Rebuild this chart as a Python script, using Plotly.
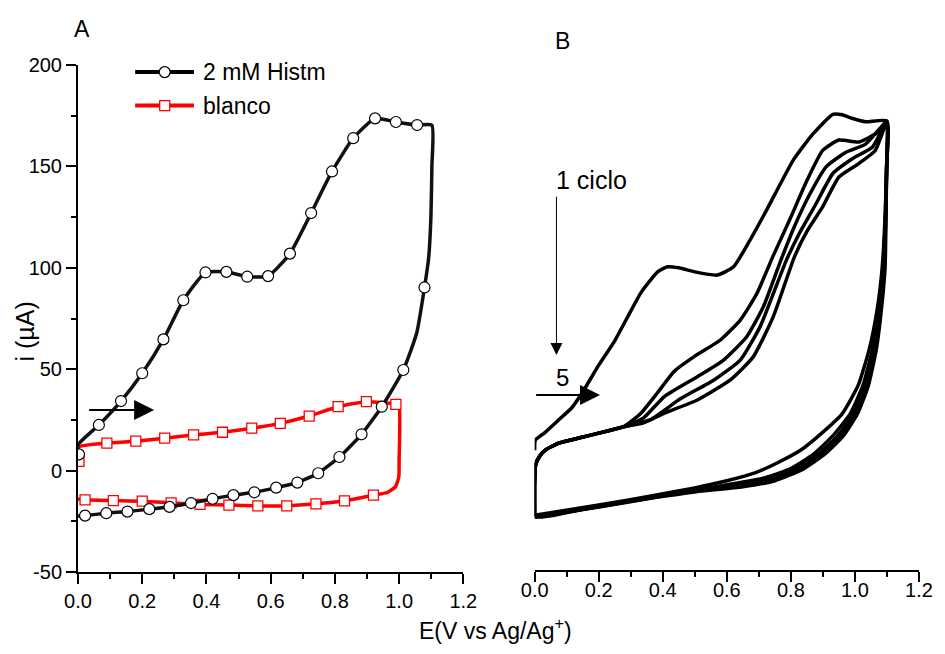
import plotly.graph_objects as go

FONT = "Arial, Liberation Sans, sans-serif"

# ---------------- Panel A data ----------------
# 2 mM Histm: full CV loop (line path) and the marked points
histm_x = [0, 0, 0.065, 0.134, 0.2, 0.266, 0.328, 0.397, 0.462, 0.527, 0.592, 0.66, 0.726, 0.791,
           0.857, 0.925, 0.99, 1.056, 1.102, 1.102, 1.099, 1.092, 1.079, 1.055, 1.013, 0.946, 0.883,
           0.814, 0.748, 0.683, 0.617, 0.549, 0.484, 0.419, 0.352, 0.285, 0.222, 0.154, 0.088, 0.022, 0.0]
histm_y = [8, 12.7, 22.5, 34.3, 48, 64.7, 84, 97.7, 98, 95.6, 95.9, 107, 127, 147.5,
           163.9, 173.7, 171.9, 170.4, 170.3, 150, 125, 105, 90.3, 68, 49.6, 31.5, 17.9,
           6.7, -1.3, -5.9, -8.4, -10.7, -12.1, -13.9, -16, -17.9, -19, -20.2, -21, -22.2, -22.5]
histm_mx = [0.003, 0.065, 0.134, 0.2, 0.266, 0.328, 0.397, 0.462, 0.527, 0.592, 0.66, 0.726, 0.791,
            0.857, 0.925, 0.99, 1.056, 1.079, 1.013, 0.946, 0.883, 0.814, 0.748, 0.683, 0.617,
            0.549, 0.484, 0.419, 0.352, 0.285, 0.222, 0.154, 0.088, 0.022]
histm_my = [8, 22.5, 34.3, 48, 64.7, 84, 97.7, 98, 95.6, 95.9, 107, 127, 147.5,
            163.9, 173.7, 171.9, 170.4, 90.3, 49.6, 31.5, 17.9, 6.7, -1.3, -5.9, -8.4,
            -10.7, -12.1, -13.9, -16, -17.9, -19, -20.2, -21, -22.2]

# blanco
blanco_x = [0, 0, 0.09, 0.18, 0.27, 0.36, 0.45, 0.541, 0.63, 0.72, 0.81, 0.898, 0.99, 1.0, 1.0,
            0.999, 0.989, 0.963, 0.92, 0.83, 0.741, 0.65, 0.56, 0.47, 0.38, 0.29, 0.2, 0.11, 0.022, 0]
blanco_y = [4.5, 11.5, 13.5, 14.5, 16, 17.6, 18.9, 20.9, 23.3, 26.9, 31.5, 34, 32.7, 31.5, 5,
            -3, -7.9, -10.8, -12.1, -14.9, -16.4, -17.4, -17.4, -17, -16.7, -15.9, -15.1, -14.8, -14.4, -14]
blanco_mx = [0.003, 0.09, 0.18, 0.27, 0.36, 0.45, 0.541, 0.63, 0.72, 0.81, 0.898, 0.99,
             0.92, 0.83, 0.741, 0.65, 0.56, 0.47, 0.38, 0.29, 0.2, 0.11, 0.022]
blanco_my = [4.5, 13.5, 14.5, 16, 17.6, 18.9, 20.9, 23.3, 26.9, 31.5, 34, 32.7,
             -12.1, -14.9, -16.4, -17.4, -17.4, -17, -16.7, -15.9, -15.1, -14.8, -14.4]

# ---------------- Panel B data (5 cycles) ----------------
c1_x = [0, 0.002, 0.03, 0.075, 0.116, 0.147, 0.2, 0.25, 0.291, 0.333, 0.384, 0.415, 0.45, 0.5, 0.57,
        0.621, 0.67, 0.724, 0.807, 0.869, 0.931, 0.96, 0.993, 1.033, 1.1,
        1.099, 1.094, 1.085, 1.07, 1.045, 1.01, 0.96, 0.9, 0.83, 0.76, 0.69, 0.6, 0.5, 0.38, 0.2, 0.0]
c1_y = [10, 15, 18.5, 25, 31, 38, 52, 64, 76, 88, 98, 100.5, 100, 98, 96.4,
        100.5, 113, 128.4, 153, 166, 175.7, 175.5, 173.6, 172, 172.4,
        150, 125, 100, 80, 60, 42, 28, 19, 10, 4, -1, -5, -8.5, -12, -17, -22]

c2_x = [0, 0, 0.003, 0.015, 0.034, 0.075, 0.178, 0.281, 0.33, 0.384, 0.436, 0.498, 0.58, 0.642, 0.694,
        0.745, 0.8, 0.85, 0.9, 0.95, 1.012, 1.074, 1.1,
        1.099, 1.095, 1.088, 1.075, 1.055, 1.025, 0.985, 0.93, 0.87, 0.8, 0.72, 0.62, 0.5, 0.38, 0.2, 0]
c2_y = [-22.5, -5, 3, 7, 10.2, 13.5, 17.6, 22, 28, 38.5, 49, 56.2, 64.4, 74.2, 87.4,
        106, 125, 143, 158, 163, 162, 167, 172,
        150, 125, 100, 80, 60, 42, 28, 17, 8, 1, -3.5, -6.5, -9.5, -12.5, -17.5, -22.5]

c3_x = [0, 0, 0.003, 0.015, 0.034, 0.075, 0.178, 0.281, 0.34, 0.405, 0.508, 0.59, 0.662, 0.714, 0.765,
        0.81, 0.858, 0.91, 0.972, 1.033, 1.1,
        1.099, 1.096, 1.09, 1.078, 1.06, 1.032, 0.995, 0.945, 0.885, 0.815, 0.73, 0.63, 0.5, 0.38, 0.2, 0]
c3_y = [-22.5, -5, 3, 7, 10.2, 13.5, 17.6, 21.7, 26, 36.5, 46.3, 54.5, 66, 80.8, 102.2,
        120, 136, 149.8, 157, 161, 172,
        150, 125, 100, 80, 60, 42, 28, 17, 8, 1, -4, -7, -10, -12.8, -17.7, -22.7]

c4_x = [0, 0, 0.003, 0.015, 0.034, 0.075, 0.178, 0.281, 0.36, 0.456, 0.56, 0.642, 0.704, 0.786,
        0.83, 0.879, 0.931, 0.993, 1.055, 1.1,
        1.099, 1.096, 1.092, 1.08, 1.064, 1.037, 1.002, 0.955, 0.895, 0.825, 0.74, 0.64, 0.5, 0.38, 0.2, 0]
c4_y = [-22.5, -5, 3, 7, 10.2, 13.5, 17.6, 21.7, 25, 35.5, 44.7, 54.5, 71, 103.8,
        118, 131.7, 146.5, 153.9, 159.6, 172,
        150, 125, 100, 80, 60, 42, 28, 17, 8, 1, -4.5, -7.5, -10.2, -13, -17.8, -22.8]

c5_x = [0, 0, 0.003, 0.015, 0.034, 0.075, 0.178, 0.281, 0.34, 0.405, 0.508, 0.611, 0.683, 0.745,
        0.811, 0.85, 0.899, 0.95, 1.012, 1.064, 1.1,
        1.099, 1.097, 1.094, 1.083, 1.067, 1.042, 1.008, 0.963, 0.905, 0.835, 0.75, 0.65, 0.5, 0.38, 0.2, 0]
c5_y = [-22.5, -5, 3, 7, 10.2, 13.5, 17.6, 21.7, 23.5, 28.3, 34.8, 44.7, 56.2, 75.9,
        105.4, 118, 130, 144.8, 151.4, 158, 172,
        150, 125, 100, 80, 60, 42, 28, 17, 8, 0.5, -5, -8, -10.5, -13.2, -18, -23]

cycles = [(c1_x, c1_y), (c2_x, c2_y), (c3_x, c3_y), (c4_x, c4_y), (c5_x, c5_y)]

x_ticks = [0.0, 0.2, 0.4, 0.6, 0.8, 1.0, 1.2]
y_ticks = [-50, 0, 50, 100, 150, 200]
legend_names = ["2 mM Histm", "blanco"]

fig = go.Figure()

# Panel A traces
fig.add_trace(go.Scatter(x=blanco_x, y=blanco_y, mode="lines", line=dict(color="#ff0000", width=3.5, shape="spline", smoothing=0.5),
                         showlegend=False, xaxis="x", yaxis="y", hoverinfo="skip"))
fig.add_trace(go.Scatter(x=blanco_mx, y=blanco_my, mode="markers",
                         marker=dict(symbol="square", size=10, color="white", line=dict(color="#ff0000", width=1.3)),
                         showlegend=False, xaxis="x", yaxis="y"))
fig.add_trace(go.Scatter(x=histm_x, y=histm_y, mode="lines", line=dict(color="#111111", width=3.5, shape="spline", smoothing=0.5),
                         showlegend=False, xaxis="x", yaxis="y", hoverinfo="skip"))
fig.add_trace(go.Scatter(x=histm_mx, y=histm_my, mode="markers",
                         marker=dict(symbol="circle", size=11, color="white", line=dict(color="#000000", width=1.2)),
                         showlegend=False, xaxis="x", yaxis="y"))

# Custom legend (inside panel A)
leg_specs = [(legend_names[0], 196.5, "#000000", "circle", 11), (legend_names[1], 180.0, "#ff0000", "square", 10)]
for name, ly, col, sym, ms in leg_specs:
    fig.add_trace(go.Scatter(x=[0.178, 0.27, 0.361], y=[ly, ly, ly], mode="lines",
                             line=dict(color=col, width=4), showlegend=False, xaxis="x", yaxis="y", hoverinfo="skip"))
    fig.add_trace(go.Scatter(x=[0.27], y=[ly], mode="markers",
                             marker=dict(symbol=sym, size=ms, color="white", line=dict(color=col, width=1.3)),
                             showlegend=False, xaxis="x", yaxis="y", hoverinfo="skip"))
    fig.add_annotation(x=0.384, y=ly, xref="x", yref="y", text=name, showarrow=False,
                       xanchor="left", yanchor="middle", font=dict(family=FONT, size=23, color="black"))

# Panel B traces
for cx, cy in cycles:
    fig.add_trace(go.Scatter(x=cx, y=cy, mode="lines", line=dict(color="black", width=3.5, shape="spline", smoothing=0.5),
                             showlegend=False, xaxis="x2", yaxis="y2", hoverinfo="skip"))

axis_common = dict(showgrid=False, zeroline=False, showline=True, linecolor="black", linewidth=2,
                   ticks="outside", ticklen=10, tickwidth=2, tickcolor="black",
                   tickfont=dict(family=FONT, size=20, color="black"))

fig.update_layout(
    width=945, height=654,
    margin=dict(l=78, r=18, t=65, b=82),
    paper_bgcolor="white", plot_bgcolor="white",
    showlegend=False,
    xaxis=dict(domain=[0, 0.4582], range=[0, 1.2], tickvals=x_ticks, ticktext=[f"{v:.1f}" for v in x_ticks],
               minor=dict(dtick=0.1, ticklen=5, tickwidth=2, tickcolor="black", ticks="outside"),
               anchor="y", ticklabelstandoff=0, **axis_common),
    yaxis=dict(domain=[0, 1], range=[-50, 200], tickvals=y_ticks, ticktext=[str(v) for v in y_ticks],
               minor=dict(dtick=25, ticklen=5, tickwidth=2, tickcolor="black", ticks="outside"),
               anchor="x", **axis_common),
    xaxis2=dict(domain=[0.543, 1.0], range=[0, 1.2], tickvals=x_ticks, ticktext=[f"{v:.1f}" for v in x_ticks],
                minor=dict(dtick=0.1, ticklen=5, tickwidth=2, tickcolor="black", ticks="outside"),
                anchor="y2", ticklabelstandoff=-9, **axis_common),
    yaxis2=dict(domain=[0.004, 1], range=[-49, 200], visible=False, anchor="x2"),
)

# Arrows
fig.add_annotation(x=0.237, y=29.9, ax=0.03, ay=29.9, xref="x", yref="y", axref="x", ayref="y",
                   text="", showarrow=True, arrowhead=2, arrowsize=2, arrowwidth=2, arrowcolor="black")
fig.add_annotation(x=0.204, y=37.3, ax=0.0, ay=37.3, xref="x2", yref="y2", axref="x2", ayref="y2",
                   text="", showarrow=True, arrowhead=2, arrowsize=2, arrowwidth=2, arrowcolor="black")
fig.add_annotation(x=0.068, y=57, ax=0.068, ay=135.8, xref="x2", yref="y2", axref="x2", ayref="y2",
                   text="", showarrow=True, arrowhead=2, arrowsize=2.4, arrowwidth=1, arrowcolor="black")

# Texts (positions in paper fractions from pixel positions)
def px(xp):
    return (xp - 78) / 849


def py(yp):
    return (654 - 82 - yp) / 507


fig.add_annotation(x=0.179, y=143.2, xref="x2", yref="y2", text="1 ciclo", showarrow=False,
                   xanchor="center", yanchor="middle", font=dict(family=FONT, size=25, color="black"))
fig.add_annotation(x=0.087, y=45.7, xref="x2", yref="y2", text="5", showarrow=False,
                   xanchor="center", yanchor="middle", font=dict(family=FONT, size=24, color="black"))
fig.add_annotation(x=px(82), y=py(29), xref="paper", yref="paper", text="A", showarrow=False,
                   xanchor="center", yanchor="middle", font=dict(family=FONT, size=23, color="black"))
fig.add_annotation(x=px(567), y=py(41), xref="paper", yref="paper", text="B", showarrow=False,
                   xanchor="center", yanchor="middle", font=dict(family=FONT, size=23, color="black"))
fig.add_annotation(x=px(499), y=py(629), xref="paper", yref="paper",
                   text="E(V vs Ag/Ag<sup>+</sup>)", showarrow=False, xanchor="center", yanchor="middle",
                   font=dict(family=FONT, size=23, color="black"))
fig.add_annotation(x=px(25), y=py(331), xref="paper", yref="paper",
                   text="i (\u00b5A)", textangle=-90, showarrow=False, xanchor="center", yanchor="middle",
                   font=dict(family=FONT, size=25, color="black"))

fig.write_html("out.html")
